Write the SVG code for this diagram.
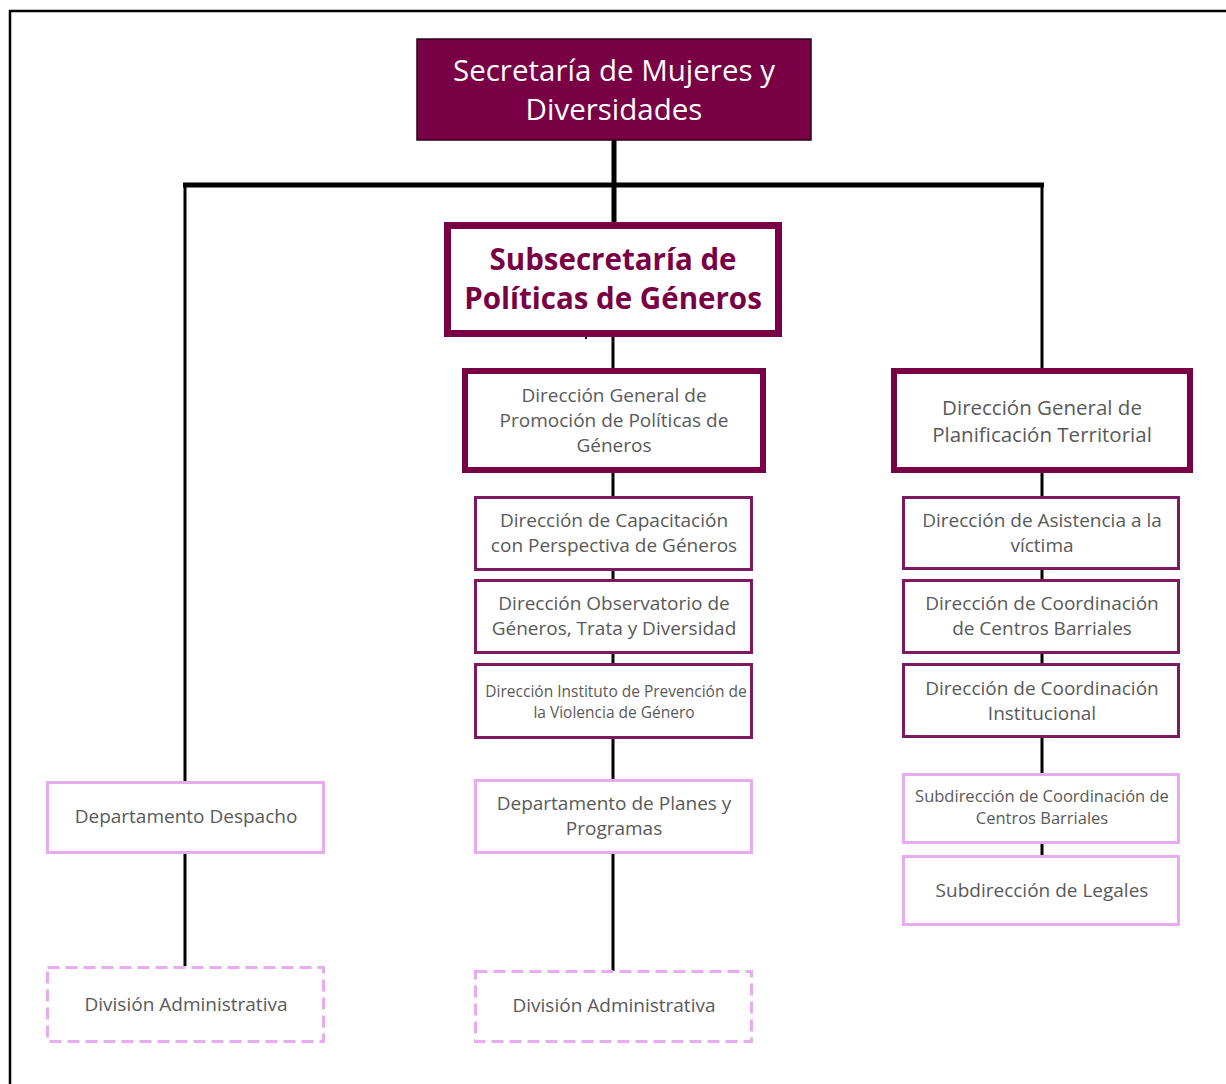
<svg xmlns="http://www.w3.org/2000/svg" width="1226" height="1084" viewBox="0 0 1226 1084">
<style>
.t{font-family:"Open Sans","Liberation Sans",sans-serif;fill:#595959;text-anchor:middle}
.w{fill:#ffffff}
.b{font-weight:bold;fill:#7a0046}
.dg{fill:#fff;stroke:#7a0046;stroke-width:6}
.sub{fill:#fff;stroke:#7d1a5f;stroke-width:3}
.pk{fill:#fff;stroke:#e8aaf0;stroke-width:3}
.dash{stroke-dasharray:12 6}
.ln{stroke:#000;fill:none}
</style>
<rect x="0" y="0" width="1226" height="1084" fill="#fff"/>
<rect x="10" y="11" width="1240" height="1100" fill="none" stroke="#000" stroke-width="2.5"/>
<g id="connectors">
<line class="ln" x1="614" y1="140" x2="614" y2="224" stroke-width="5"/>
<line class="ln" x1="183" y1="185" x2="1044" y2="185" stroke-width="5"/>
<line class="ln" x1="185" y1="185" x2="185" y2="782" stroke-width="3"/>
<line class="ln" x1="185" y1="853" x2="185" y2="966" stroke-width="3"/>
<line class="ln" x1="1042" y1="185" x2="1042" y2="856" stroke-width="3"/>
<line class="ln" x1="613" y1="337" x2="613" y2="971" stroke-width="3"/>
<line class="ln" x1="586" y1="336" x2="586" y2="339" stroke-width="2"/>
</g>
<g id="secretaria">
<rect x="417" y="39" width="394" height="101" fill="#7a0046" stroke="#2a0018" stroke-width="1.5"/>
<text class="t w" font-size="29.5" x="614" y="81">Secretaría de Mujeres y</text>
<text class="t w" font-size="29.5" x="614" y="120">Diversidades</text>
</g>
<g id="subsecretaria">
<rect x="447.5" y="225.5" width="331" height="108" fill="#fff" stroke="#7a0046" stroke-width="7"/>
<text class="t b" font-size="29.5" x="613" y="270">Subsecretaría de</text>
<text class="t b" font-size="29.5" x="613" y="309">Políticas de Géneros</text>
</g>
<g id="dg-promocion">
<rect class="dg" x="465" y="371" width="298" height="99"/>
<text class="t" font-size="19" x="614" y="402">Dirección General de</text>
<text class="t" font-size="19" x="614" y="427">Promoción de Políticas de</text>
<text class="t" font-size="19" x="614" y="452">Géneros</text>
</g>
<g id="dir-capacitacion">
<rect class="sub" x="475.5" y="497.5" width="276" height="72"/>
<text class="t" font-size="19" x="614" y="527">Dirección de Capacitación</text>
<text class="t" font-size="19" x="614" y="552">con Perspectiva de Géneros</text>
</g>
<g id="dir-observatorio">
<rect class="sub" x="475.5" y="580.5" width="276" height="72"/>
<text class="t" font-size="19" x="614" y="610">Dirección Observatorio de</text>
<text class="t" font-size="19" x="614" y="635">Géneros, Trata y Diversidad</text>
</g>
<g id="dir-instituto">
<rect class="sub" x="475.5" y="664.5" width="276" height="73"/>
<text class="t" font-size="15.5" x="616" y="697">Dirección Instituto de Prevención de</text>
<text class="t" font-size="15.5" x="614" y="718">la Violencia de Género</text>
</g>
<g id="dg-planificacion">
<rect class="dg" x="894" y="371" width="296" height="99"/>
<text class="t" font-size="20.5" x="1042" y="415">Dirección General de</text>
<text class="t" font-size="20.5" x="1042" y="442">Planificación Territorial</text>
</g>
<g id="dir-asistencia">
<rect class="sub" x="903.5" y="497.5" width="275" height="71"/>
<text class="t" font-size="19" x="1042" y="527">Dirección de Asistencia a la</text>
<text class="t" font-size="19" x="1042" y="552">víctima</text>
</g>
<g id="dir-centros">
<rect class="sub" x="903.5" y="580.5" width="275" height="72"/>
<text class="t" font-size="19" x="1042" y="610">Dirección de Coordinación</text>
<text class="t" font-size="19" x="1042" y="635">de Centros Barriales</text>
</g>
<g id="dir-institucional">
<rect class="sub" x="903.5" y="664.5" width="275" height="72"/>
<text class="t" font-size="19" x="1042" y="695">Dirección de Coordinación</text>
<text class="t" font-size="19" x="1042" y="720">Institucional</text>
</g>
<g id="subdir-centros">
<rect class="pk" x="903.5" y="774.5" width="275" height="68"/>
<text class="t" font-size="16.5" x="1042" y="802">Subdirección de Coordinación de</text>
<text class="t" font-size="16.5" x="1042" y="824">Centros Barriales</text>
</g>
<g id="subdir-legales">
<rect class="pk" x="903.5" y="856.5" width="275" height="68"/>
<text class="t" font-size="19" x="1042" y="897">Subdirección de Legales</text>
</g>
<g id="dept-despacho">
<rect class="pk" x="47.5" y="782.5" width="276" height="70"/>
<text class="t" font-size="19" x="186" y="823">Departamento Despacho</text>
</g>
<g id="div-admin-1">
<rect class="pk dash" x="47.5" y="967.5" width="276" height="74"/>
<text class="t" font-size="19" x="186" y="1011">División Administrativa</text>
</g>
<g id="dept-planes">
<rect class="pk" x="475.5" y="780.5" width="276" height="72"/>
<text class="t" font-size="19" x="614" y="810">Departamento de Planes y</text>
<text class="t" font-size="19" x="614" y="835">Programas</text>
</g>
<g id="div-admin-2">
<rect class="pk dash" x="475.5" y="971.5" width="276" height="70"/>
<text class="t" font-size="19" x="614" y="1012">División Administrativa</text>
</g>
</svg>
